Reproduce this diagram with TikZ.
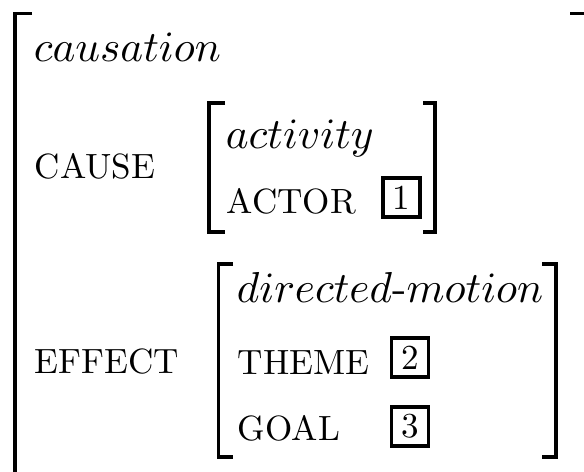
\documentclass[tikz,border=0pt]{standalone}
\usepackage{amssymb}
\usepackage{tikz}
\usetikzlibrary{positioning}
\newcommand{\attrtext}[1]{\scalebox{0.81}{#1}}
\tikzset{feat/.style={anchor=base west,inner sep=0pt}}
\tikzset{tag/.style={draw,line width=0.77pt,minimum width=8.5pt,minimum height=9pt,inner sep=0pt}}
\tikzset{brack/.style={line width=0.8pt}}

\begin{document}
\begin{tikzpicture}[x=0.231pt,y=-0.231pt]
\useasboundingbox (0,0) rectangle (584,471);
\clip (0,0) rectangle (584,471);

\node(Caus) at (33,61) [feat] {$causation$};
\node(Cause) at (34,178) [feat] {\attrtext{CAUSE}};
\node(Act) at (225,148) [feat] {$activity$};
\node(Actor) at (226,213) [feat] {\attrtext{ACTOR}};
\node(T1) at (401.5,197.5) [tag] {\attrtext{1}};
\node(Effect) at (34,373) [feat] {\attrtext{EFFECT}};
\node(Dir) at (236,302) [feat] {$directed$-$motion$};
\node(Theme) at (237,374) [feat] {\attrtext{THEME}};
\node(T2) at (410,357.5) [tag] {\attrtext{2}};
\node(Goal) at (237,440) [feat] {\attrtext{GOAL}};
\node(T3) at (410,426.5) [tag] {\attrtext{3}};

% outer matrix
\draw[brack] (32,13.5)--(15,13.5)--(15,490);
\draw[brack] (570,13.5)--(600,13.5)--(600,490);
% cause value
\draw[brack] (225,103)--(209,103)--(209,232)--(225,232);
\draw[brack] (423,103)--(435,103)--(435,232)--(423,232);
% effect value
\draw[brack] (233,264)--(218.5,264)--(218.5,457)--(233,457);
\draw[brack] (542,264)--(556,264)--(556,457)--(542,457);
\end{tikzpicture}
\end{document}
